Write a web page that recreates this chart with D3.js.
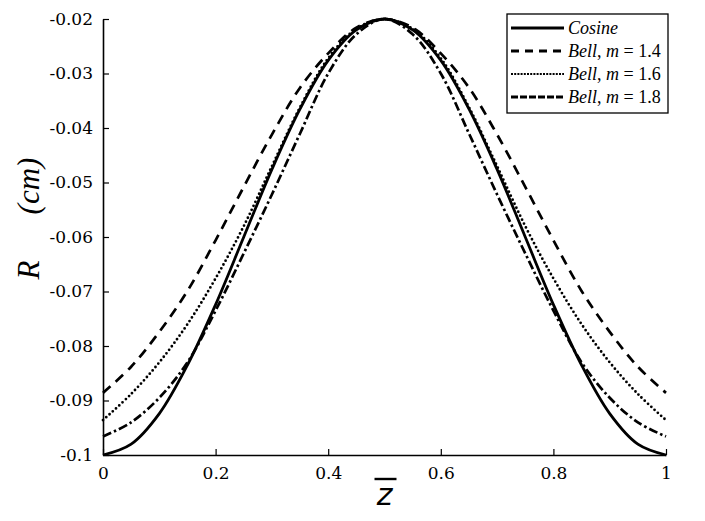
<!DOCTYPE html>
<html>
<head>
<meta charset="utf-8">
<script src="https://cdn.jsdelivr.net/npm/d3@7"></script>
<style>
  html, body { margin: 0; padding: 0; background: #fff; }
  svg { display: block; }
  text { fill: #000; }
</style>
</head>
<body>
<svg id="chart" width="705" height="521"></svg>
<script>
// ---- data ----
const zValues = [0, 0.05, 0.1, 0.15, 0.2, 0.25, 0.3, 0.35, 0.4, 0.45, 0.5,
                 0.55, 0.6, 0.65, 0.7, 0.75, 0.8, 0.85, 0.9, 0.95, 1];
const cosineR = [-0.1000, -0.0980, -0.0924, -0.0835, -0.0724, -0.0600, -0.0476, -0.0365, -0.0276, -0.0220, -0.0200,
                 -0.0220, -0.0276, -0.0365, -0.0476, -0.0600, -0.0724, -0.0835, -0.0924, -0.0980, -0.1000];
const bell14R = [-0.0886, -0.0838, -0.0774, -0.0699, -0.0606, -0.0508, -0.0412, -0.0326, -0.0263, -0.0216, -0.0200,
                 -0.0216, -0.0263, -0.0326, -0.0412, -0.0508, -0.0606, -0.0699, -0.0774, -0.0838, -0.0886];
const bell16R = [-0.0936, -0.0888, -0.0830, -0.0760, -0.0676, -0.0580, -0.0470, -0.0362, -0.0272, -0.0218, -0.0200,
                 -0.0218, -0.0272, -0.0362, -0.0470, -0.0580, -0.0676, -0.0760, -0.0830, -0.0888, -0.0936];
const bell18R = [-0.0966, -0.0940, -0.0895, -0.0830, -0.0735, -0.0630, -0.0522, -0.0410, -0.0300, -0.0228, -0.0200,
                 -0.0228, -0.0300, -0.0410, -0.0522, -0.0630, -0.0735, -0.0830, -0.0895, -0.0940, -0.0966];
const seriesNames = ["Cosine", "Bell, m = 1.4", "Bell, m = 1.6", "Bell, m = 1.8"];
const xTicks = [0, 0.2, 0.4, 0.6, 0.8, 1];
const xTickLabels = ["0", "0.2", "0.4", "0.6", "0.8", "1"];
const yTicks = [-0.02, -0.03, -0.04, -0.05, -0.06, -0.07, -0.08, -0.09, -0.1];
const yTickLabels = ["-0.02", "-0.03", "-0.04", "-0.05", "-0.06", "-0.07", "-0.08", "-0.09", "-0.1"];

// ---- layout ----
const W = 705, H = 521;
const margin = {left: 103, right: 39, top: 19, bottom: 66};
const svg = d3.select("#chart");
const x = d3.scaleLinear().domain([0, 1]).range([margin.left, W - margin.right]);
const y = d3.scaleLinear().domain([-0.1, -0.02]).range([H - margin.bottom, margin.top]);

const serif = "'DejaVu Serif', 'Liberation Serif', serif";
const tserif = "'Liberation Serif', 'Times New Roman', serif";

// axes
const xAxis = d3.axisBottom(x).tickValues(xTicks).tickSizeInner(-6).tickSizeOuter(0)
  .tickFormat((d, i) => xTickLabels[i]).tickPadding(12);
const yAxis = d3.axisLeft(y).tickValues(yTicks).tickSizeInner(-6).tickSizeOuter(0)
  .tickFormat((d, i) => yTickLabels[i]).tickPadding(10);

const gx = svg.append("g").attr("transform", `translate(0,${y(-0.1)})`).call(xAxis);
const gy = svg.append("g").attr("transform", `translate(${x(0)},0)`).call(yAxis);
[gx, gy].forEach(g => {
  g.select(".domain").attr("stroke", "#000").attr("stroke-width", 1.6);
  g.selectAll(".tick line").attr("stroke", "#000").attr("stroke-width", 1.2);
  g.selectAll(".tick text").attr("font-family", serif).attr("font-size", 17).attr("fill", "#000");
});

// lines
const styles = [
  {data: cosineR, dash: null, width: 2.8, cap: "butt"},
  {data: bell14R, dash: "10,7", width: 2.7, cap: "butt"},
  {data: bell16R, dash: "0,4.4", width: 2.8, cap: "round"},
  {data: bell18R, dash: "9,3,2.5,3", width: 2.7, cap: "butt"}
];
const line = d3.line().x(d => x(d[0])).y(d => y(d[1])).curve(d3.curveCatmullRom.alpha(0.5));
styles.forEach(s => {
  svg.append("path")
    .datum(zValues.map((z, i) => [z, s.data[i]]))
    .attr("d", line)
    .attr("fill", "none")
    .attr("stroke", "#000")
    .attr("stroke-width", s.width)
    .attr("stroke-linecap", s.cap)
    .attr("stroke-dasharray", s.dash);
});

// legend
const lg = svg.append("g");
const lx = 507, ly = 14, lw = 161, lh = 99;
lg.append("rect").attr("x", lx).attr("y", ly).attr("width", lw).attr("height", lh)
  .attr("fill", "#fff").attr("stroke", "#000").attr("stroke-width", 1.3);
const legendDash = [null, "8,6", "2,1.2", "7,2"];
seriesNames.forEach((name, i) => {
  const yy = ly + 14 + i * 23;
  lg.append("line").attr("x1", lx + 4).attr("x2", lx + 57).attr("y1", yy).attr("y2", yy)
    .attr("stroke", "#000").attr("stroke-width", i === 2 ? 2 : 2.8).attr("stroke-dasharray", legendDash[i]);
  const t = lg.append("text").attr("x", lx + 61).attr("y", yy + 6)
    .attr("font-family", tserif).attr("font-size", 18);
  if (i === 0) {
    t.append("tspan").attr("font-style", "italic").text("Cosine");
  } else {
    const parts = name.split(/,\s*m\s*=\s*/);
    t.append("tspan").attr("font-style", "italic").text("Bell");
    t.append("tspan").text(", ");
    t.append("tspan").attr("font-style", "italic").text("m");
    t.append("tspan").text(" = " + parts[1]);
  }
});

// y label: "R" and "(cm)" with a wide gap
svg.append("text")
  .attr("transform", `translate(39,270) rotate(-90)`)
  .attr("text-anchor", "middle")
  .attr("font-family", tserif).attr("font-size", 31).attr("font-style", "italic")
  .text("R");
svg.append("text")
  .attr("transform", `translate(39,186) rotate(-90)`)
  .attr("text-anchor", "middle")
  .attr("font-family", tserif).attr("font-size", 31).attr("font-style", "italic")
  .text("(cm)");

// x label: z with overline
svg.append("text")
  .attr("x", x(0.5)).attr("y", 505)
  .attr("text-anchor", "middle")
  .attr("font-family", "'DejaVu Sans', sans-serif").attr("font-size", 30).attr("font-style", "italic")
  .text("z");
svg.append("line").attr("x1", x(0.5) - 10).attr("x2", x(0.5) + 12).attr("y1", 479).attr("y2", 479)
  .attr("stroke", "#000").attr("stroke-width", 2.4);
</script>
</body>
</html>
